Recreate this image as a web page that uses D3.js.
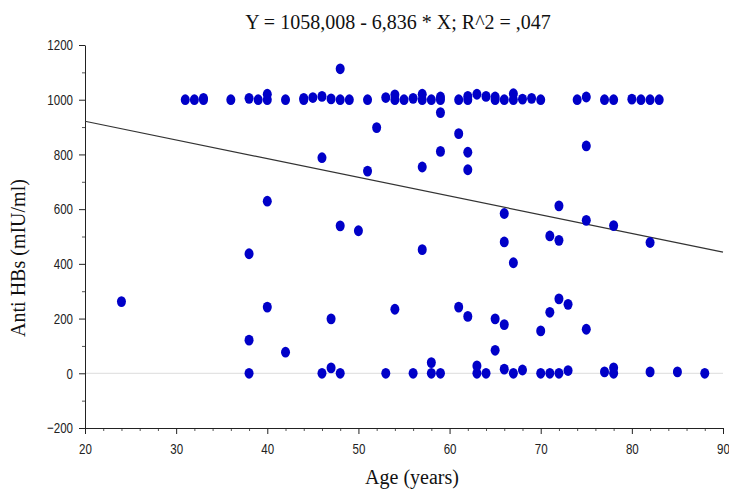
<!DOCTYPE html>
<html><head><meta charset="utf-8">
<script src="https://cdn.jsdelivr.net/npm/d3@7"></script>
<style>body{margin:0;background:#fff}svg{display:block}</style>
</head><body>
<svg id="c" width="729" height="490"></svg>
<script>
// Age (years)
const ages = [
  31,32,33,33,36,38,39,40,40,42,44,44,45,46,47,48,49,51,53,54,54,55,56,57,57,58,59,59,61,62,62,63,64,65,65,66,67,67,68,69,70,74,75,77,78,80,81,82,83,
  48,
  52,46,51,40,48,50,59,61,59,62,57,62,75,66,72,75,78,38,57,66,67,71,72,82,
  24,40,47,54,38,42,61,62,65,66,72,73,71,70,75,65,58,63,66,68,73,77,78,82,85,47,
  38,46,48,53,56,58,59,63,64,67,70,71,72,78,88
];
// Anti HBs (mIU/ml)
const antiHBs = [
  1000,1000,1000,1005,1000,1005,1000,1000,1020,1000,1000,1005,1008,1012,1003,1000,1000,1000,1008,1000,1018,1000,1005,1000,1020,1000,1000,1010,1000,1000,1012,1020,1012,1000,1010,1000,1000,1022,1002,1005,1000,1000,1010,1000,1000,1002,1000,1000,1000,
  1113,
  898,788,739,629,539,521,953,876,811,808,754,744,831,584,612,559,540,437,452,480,404,502,486,478,
  262,242,199,234,121,77,242,208,199,178,272,252,223,155,161,84,39,27,15,12,10,5,20,5,5,20,
  0,0,0,0,0,0,0,0,0,0,0,0,0,0,0
];
const xTicks = [20,30,40,50,60,70,80,90];
const yTicks = [-200,0,200,400,600,800,1000,1200];
const regression = [1058.008, -6.836]; // intercept, slope
const titleText = "Y = 1058,008 - 6,836 * X; R^2 = ,047";
const xLabel = "Age (years)";
const yLabel = "Anti HBs (mIU/ml)";

const svg = d3.select("#c");
const L = 85, R = 723, T = 45, B = 428;
const x = d3.scaleLinear().domain([20, 90]).range([L, R]);
const y = d3.scaleLinear().domain([-200, 1200]).range([B, T]);

// zero gridline
svg.append("line").attr("x1", L).attr("x2", R).attr("y1", y(0)).attr("y2", y(0))
  .attr("stroke", "#dcdcdc").attr("stroke-width", 1);

function squash(sel, sx) {
  sel.selectAll(".tick text").each(function() {
    const t = d3.select(this);
    const tx = +t.attr("x") || 0;
    t.attr("x", 0).attr("transform", `translate(${tx},0) scale(${sx},1)`);
  });
}

// minor ticks
const yMinor = svg.append("g").attr("transform", `translate(${L},0)`)
  .call(d3.axisLeft(y).tickValues(d3.range(-100, 1200, 200)).tickSize(3).tickFormat(""));
yMinor.select(".domain").remove();
yMinor.selectAll("line").attr("stroke", "#555");
const xMinor = svg.append("g").attr("transform", `translate(0,${B})`)
  .call(d3.axisBottom(x).tickValues(d3.range(22, 90, 2).filter(v => v % 10 !== 0)).tickSize(3).tickFormat(""));
xMinor.select(".domain").remove();
xMinor.selectAll("line").attr("stroke", "#555");

const yAxis = svg.append("g").attr("transform", `translate(${L},0)`)
  .call(d3.axisLeft(y).tickValues(yTicks).tickSize(6).tickSizeOuter(0).tickPadding(6).tickFormat(d3.format("d")));
const xAxis = svg.append("g").attr("transform", `translate(0,${B})`)
  .call(d3.axisBottom(x).tickValues(xTicks).tickSize(6).tickSizeOuter(0).tickPadding(9).tickFormat(d3.format("d")));
[yAxis, xAxis].forEach(a => {
  a.selectAll("text").attr("font-family", "'Liberation Sans', Arial, sans-serif").attr("font-size", 15).attr("fill", "#222");
  a.select(".domain").attr("stroke", "#222");
  a.selectAll(".tick line").attr("stroke", "#222");
  squash(a, 0.77);
});

// regression line
svg.append("line")
  .attr("x1", x(20)).attr("y1", y(regression[0] + regression[1] * 20))
  .attr("x2", x(90)).attr("y2", y(regression[0] + regression[1] * 90))
  .attr("stroke", "#333").attr("stroke-width", 1.2);

// points
svg.append("g").selectAll("ellipse").data(ages.map((a, i) => [a, antiHBs[i]])).join("ellipse")
  .attr("cx", d => x(d[0])).attr("cy", d => y(d[1]))
  .attr("rx", 4.5).attr("ry", 5.4).attr("fill", "#0000c8");

// title & labels
svg.append("text").attr("x", 398).attr("y", 29).attr("text-anchor", "middle")
  .attr("font-family", "'Liberation Serif', 'Times New Roman', serif").attr("font-size", 20).attr("fill", "#111")
  .text(titleText);
svg.append("text").attr("x", 412).attr("y", 484).attr("text-anchor", "middle")
  .attr("font-family", "'Liberation Serif', 'Times New Roman', serif").attr("font-size", 20).attr("fill", "#111")
  .text(xLabel);
svg.append("text").attr("transform", "translate(25,258) rotate(-90)").attr("text-anchor", "middle")
  .attr("font-family", "'Liberation Serif', 'Times New Roman', serif").attr("font-size", 20).attr("fill", "#111")
  .text(yLabel);
</script>
</body></html>
